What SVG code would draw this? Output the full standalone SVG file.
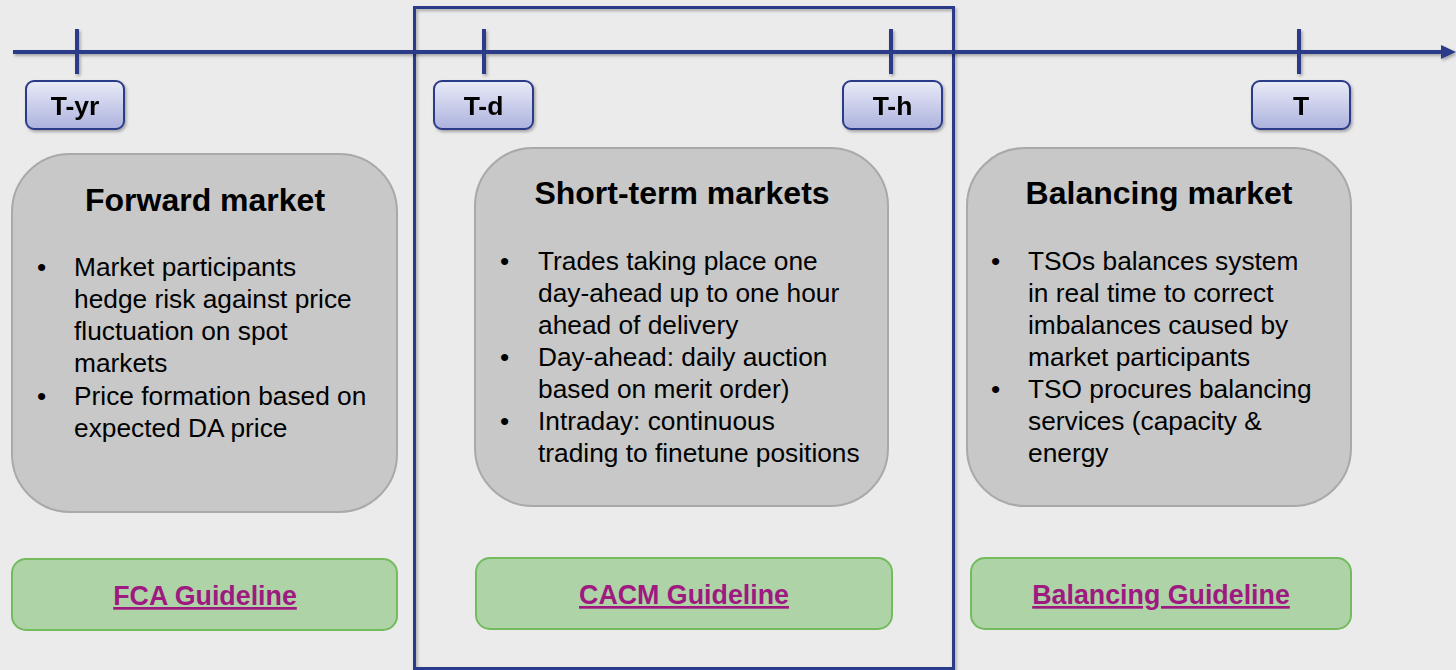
<svg xmlns="http://www.w3.org/2000/svg" width="1456" height="670" viewBox="0 0 1456 670">
<defs>
<linearGradient id="tg" x1="0" y1="0" x2="0" y2="1">
<stop offset="0" stop-color="#E9EBF7"/>
<stop offset="1" stop-color="#ADB2DE"/>
</linearGradient>
<filter id="sh" x="-5%" y="-5%" width="115%" height="120%">
<feDropShadow dx="1.5" dy="2" stdDeviation="1.5" flood-color="#000" flood-opacity="0.3"/>
</filter>
</defs>
<style>
.tl{stroke:#2B3A8A;stroke-width:4;fill:none}
.tick{fill:url(#tg);stroke:#2B3A8A;stroke-width:2}
.tickt{font-family:"Liberation Sans",Arial,sans-serif;font-weight:bold;font-size:26.5px;fill:#000;text-anchor:middle}
.mk{fill:#C8C8C8;stroke:#A9A9A9;stroke-width:2}
.title{font-family:"Liberation Sans",Arial,sans-serif;font-weight:bold;font-size:32px;fill:#000;text-anchor:middle}
.body{font-family:"Liberation Sans",Arial,sans-serif;font-size:26.3px;fill:#000}
.gl{fill:#AED3A7;stroke:#74BB5E;stroke-width:2}
.lnk{font-family:"Liberation Sans",Arial,sans-serif;font-weight:bold;font-size:26.8px;fill:#9E1A80;text-anchor:middle;text-decoration:underline}
</style>
<rect width="1456" height="670" fill="#EBEBEB"/>

<g id="frame">
<rect x="414.5" y="7.5" width="539" height="661" fill="none" stroke="#2B3A8A" stroke-width="3" filter="url(#sh)"/>
</g>

<g id="connectors" filter="url(#sh)">
<line class="tl" x1="13" y1="52" x2="1443" y2="52"/>
<polygon points="1441,45 1456,52 1441,59" fill="#2B3A8A"/>
<line class="tl" x1="77" y1="29" x2="77" y2="74"/>
<line class="tl" x1="484" y1="29" x2="484" y2="74"/>
<line class="tl" x1="891" y1="29" x2="891" y2="74"/>
<line class="tl" x1="1299" y1="29" x2="1299" y2="74"/>
</g>

<g id="t-yr" filter="url(#sh)">
<rect class="tick" x="26" y="81" width="98" height="48" rx="8"/>
<text class="tickt" x="75" y="115">T-yr</text>
</g>
<g id="t-d" filter="url(#sh)">
<rect class="tick" x="434" y="81" width="99" height="48" rx="8"/>
<text class="tickt" x="483.5" y="115">T-d</text>
</g>
<g id="t-h" filter="url(#sh)">
<rect class="tick" x="843" y="81" width="99" height="48" rx="8"/>
<text class="tickt" x="892.5" y="115">T-h</text>
</g>
<g id="t" filter="url(#sh)">
<rect class="tick" x="1252" y="81" width="98" height="48" rx="8"/>
<text class="tickt" x="1301" y="115">T</text>
</g>

<g id="forward-market">
<rect class="mk" x="12" y="154" width="385" height="358" rx="58"/>
<text class="title" x="205" y="211">Forward market</text>
<text class="body" x="37" y="276">•</text>
<text class="body" x="74" y="276">Market participants</text>
<text class="body" x="74" y="308">hedge risk against price</text>
<text class="body" x="74" y="340">fluctuation on spot</text>
<text class="body" x="74" y="372">markets</text>
<text class="body" x="37" y="405">•</text>
<text class="body" x="74" y="405">Price formation based on</text>
<text class="body" x="74" y="437">expected DA price</text>
</g>

<g id="short-term-markets">
<rect class="mk" x="475" y="148" width="413" height="358" rx="58"/>
<text class="title" x="682" y="204">Short-term markets</text>
<text class="body" x="500" y="270">•</text>
<text class="body" x="538" y="270">Trades taking place one</text>
<text class="body" x="538" y="302">day-ahead up to one hour</text>
<text class="body" x="538" y="334">ahead of delivery</text>
<text class="body" x="500" y="366">•</text>
<text class="body" x="538" y="366">Day-ahead: daily auction</text>
<text class="body" x="538" y="398">based on merit order)</text>
<text class="body" x="500" y="430">•</text>
<text class="body" x="538" y="430">Intraday: continuous</text>
<text class="body" x="538" y="462">trading to finetune positions</text>
</g>

<g id="balancing-market">
<rect class="mk" x="967" y="148" width="384" height="358" rx="58"/>
<text class="title" x="1159" y="204">Balancing market</text>
<text class="body" x="991" y="270">•</text>
<text class="body" x="1028" y="270">TSOs balances system</text>
<text class="body" x="1028" y="302">in real time to correct</text>
<text class="body" x="1028" y="334">imbalances caused by</text>
<text class="body" x="1028" y="366">market participants</text>
<text class="body" x="991" y="398">•</text>
<text class="body" x="1028" y="398">TSO procures balancing</text>
<text class="body" x="1028" y="430">services (capacity &amp;</text>
<text class="body" x="1028" y="462">energy</text>
</g>

<g id="fca-guideline">
<rect class="gl" x="12" y="559" width="385" height="71" rx="14"/>
<text class="lnk" x="205" y="605">FCA Guideline</text>
</g>
<g id="cacm-guideline">
<rect class="gl" x="476" y="558" width="416" height="71" rx="14"/>
<text class="lnk" x="684" y="604">CACM Guideline</text>
</g>
<g id="balancing-guideline">
<rect class="gl" x="971" y="558" width="380" height="71" rx="14"/>
<text class="lnk" x="1161" y="604">Balancing Guideline</text>
</g>
</svg>
